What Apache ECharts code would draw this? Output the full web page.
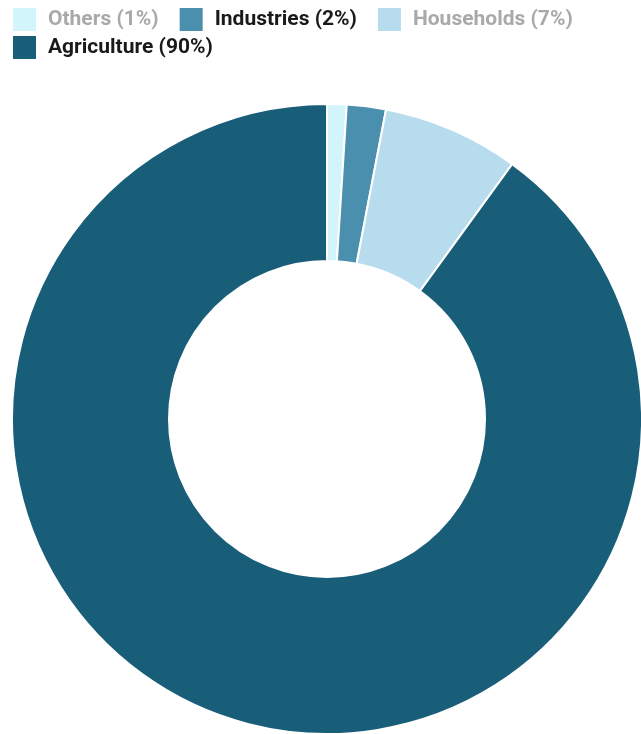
<!DOCTYPE html>
<html><head><meta charset="utf-8">
<script src="https://cdn.jsdelivr.net/npm/echarts@6/dist/echarts.min.js"></script>
<style>html,body{margin:0;padding:0;background:#fff}#c{width:641px;height:734px}</style>
</head><body><div id="c"></div>
<script>
const categories = ["Others", "Industries", "Households", "Agriculture"];
const values = [1, 2, 7, 90];
const colors = ["#d2f5fb", "#4a8fae", "#b6dcee", "#195e78"];
const legendTextColors = ["#a9a9a9", "#1a1a1a", "#a9a9a9", "#1a1a1a"];

const labels = categories.map((c, i) => c + " (" + values[i] + "%)");
const chart = echarts.init(document.getElementById('c'));
function legendItem(i) {
  return {
    name: labels[i],
    itemStyle: { borderWidth: 0 },
    textStyle: { color: legendTextColors[i] }
  };
}
const baseLegend = {
  left: 13, padding: 0,
  itemWidth: 23, itemHeight: 23, itemGap: 21,
  icon: 'rect',
  itemStyle: { borderWidth: 0 },
  formatter: n => '{t|' + n + '}',
  textStyle: {
    fontFamily: 'Roboto', fontSize: 21, fontWeight: 'bold',
    rich: { t: { fontFamily: 'Roboto', fontSize: 21, fontWeight: 'bold', padding: [0, 0, 0, 7] } }
  },
  selectedMode: false
};
chart.setOption({
  animation: false,
  legend: [
    Object.assign({}, baseLegend, { top: 8, data: [0, 1, 2].map(legendItem) }),
    Object.assign({}, baseLegend, { top: 36, data: [3].map(legendItem) })
  ],
  series: [{
    type: 'pie',
    center: [327, 419],
    radius: [158, 315],
    startAngle: 90,
    clockwise: true,
    label: { show: false },
    labelLine: { show: false },
    itemStyle: { borderColor: '#fff', borderWidth: 2 },
    emphasis: { disabled: true },
    data: labels.map((l, i) => ({ name: l, value: values[i], itemStyle: { color: colors[i] } }))
  }]
});
</script></body></html>
